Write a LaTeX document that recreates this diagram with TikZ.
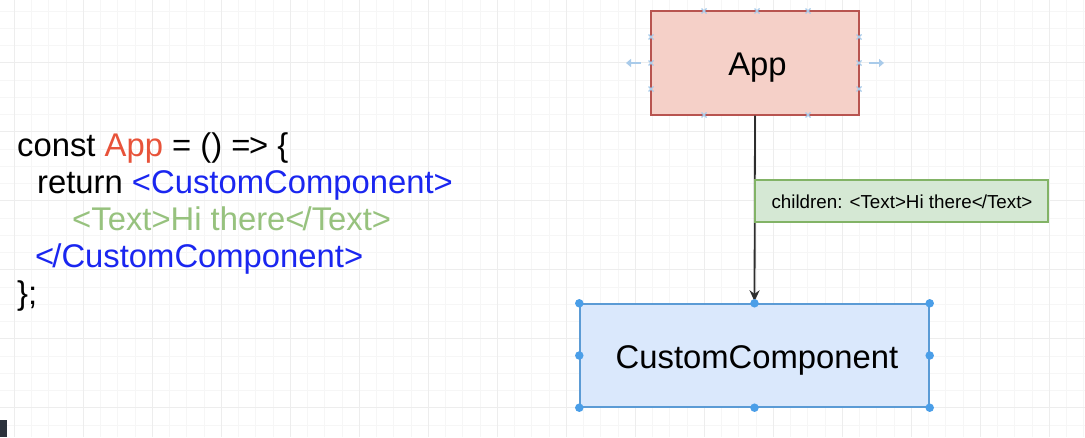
\documentclass[tikz,border=0pt]{standalone}
\usepackage{fontspec}
\setmainfont{Liberation Sans}
\usetikzlibrary{arrows.meta}
\definecolor{gridminor}{HTML}{F6F6F6}
\definecolor{gridmajor}{HTML}{EDEDED}
\definecolor{appfill}{HTML}{F5D0C8}
\definecolor{appdraw}{HTML}{B85450}
\definecolor{lblfill}{HTML}{D5E8D4}
\definecolor{lbldraw}{HTML}{82B366}
\definecolor{ccfill}{HTML}{DAE8FC}
\definecolor{ccdraw}{HTML}{5B9BD5}
\definecolor{handle}{HTML}{4A9EE8}
\definecolor{hint}{HTML}{A9CBEA}
\definecolor{codered}{HTML}{E8533A}
\definecolor{codeblue}{HTML}{1A26F0}
\definecolor{codegreen}{HTML}{97C27E}
\definecolor{conncol}{HTML}{2E2E2E}
\definecolor{tabcol}{HTML}{2B323C}
\tikzset{
  gmin/.style={draw=gridminor, line width=0.9pt},
  gmaj/.style={draw=gridmajor, line width=1.2pt},
  boxnode/.style={rectangle, line width=1.4pt, inner sep=0pt},
  bigtext/.style={font=\fontsize{32.8}{37}\selectfont, inner sep=0pt},
  codeline/.style={font=\fontsize{32.8}{37}\selectfont, inner sep=0pt, anchor=base west},
  smalltext/.style={font=\fontsize{18.8}{22}\selectfont, inner sep=0pt},
  conn/.style={draw=conncol, line width=1.8pt, shorten >=2pt, -{Stealth[length=11pt,width=10pt]}},
  seldot/.style={circle, fill=handle, inner sep=0pt, minimum size=8.5pt},
  hintx/.style={draw=hint, line width=1.2pt},
}
\begin{document}
\begin{tikzpicture}[x=1pt,y=-1pt]
\useasboundingbox (0,0) rectangle (1085,437);
\fill[white] (0,0) rectangle (1085,437);
% grid
\foreach \i in {0,...,63} {\draw[gmin] ({-2.95+17.25*\i},0) -- ({-2.95+17.25*\i},437);}
\foreach \j in {0,...,25} {\draw[gmin] (0,{10.95+17.25*\j}) -- (1085,{10.95+17.25*\j});}
\foreach \i in {0,...,15} {\draw[gmaj] ({14.3+69*\i},0) -- ({14.3+69*\i},437);}
\foreach \j in {-1,...,5} {\draw[gmaj] (0,{62.7+69*\j}) -- (1085,{62.7+69*\j});}
% bottom-left dark tab
\fill[tabcol] (0,420) rectangle (7,437);

% code
\node[codeline] (l1) at (17,156) {const \textcolor{codered}{App} = () =\kern-1.5pt> \{};
\node[codeline] (l2) at (37,193) {return \textcolor{codeblue}{<CustomComponent>}};
\node[codeline, text=codegreen] (l3) at (72,230) {<Text>Hi there<\kern-2pt/Text>};
\node[codeline, text=codeblue] (l4) at (35,267) {<\kern-2pt/CustomComponent>};
\node[codeline] (l5) at (17,304) {\};};

% App box
\node[boxnode, fill=appfill, draw=appdraw, minimum width=208pt, minimum height=104pt] (app) at (755,63) {};
\node[bigtext, anchor=base] (apptxt) at (757.5,75) {App};
% app selection hints
\foreach \p in {(704,11),(757,11),(808,11),(704,115),(808,115),(651,37),(651,63),(651,89),(859,37),(859,63),(859,89)} {
  \draw[hintx] \p ++(-2.5,-2.5) -- ++(5,5) \p ++(-2.5,2.5) -- ++(5,-5);
}
\draw[hint, line width=2.5pt, -{Triangle[length=5pt,width=8pt]}] (641,63) -- (626,63);
\draw[hint, line width=2.5pt, -{Triangle[length=5pt,width=8pt]}] (869,63) -- (884,63);

% CustomComponent box
\node[boxnode, fill=ccfill, draw=ccdraw, minimum width=349pt, minimum height=103pt] (cc) at (754.5,355.5) {};
\node[bigtext, anchor=base] (cctxt) at (757,368) {CustomComponent};

% connector
\draw[conn] (app.south) -- (cc.north);

% edge label
\node[boxnode, fill=lblfill, draw=lbldraw, line width=1.2pt, minimum width=293pt, minimum height=42pt] (lbl) at (901.5,201) {};
\node[smalltext, anchor=base] (lbltxt) at (902,208) {children: <Text>Hi there<\kern-1pt/Text>};

% selection handles
\foreach \a in {north west,north,north east,west,east,south west,south,south east} {
  \node[seldot] at (cc.\a) {};
}
\end{tikzpicture}
\end{document}
